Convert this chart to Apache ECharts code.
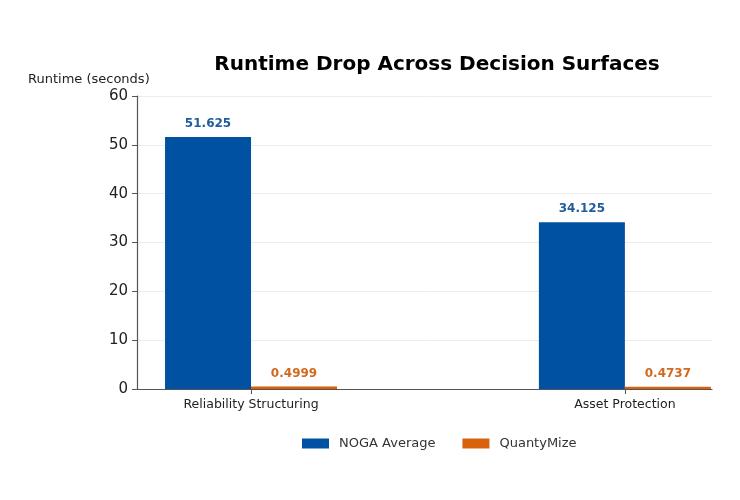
<!DOCTYPE html>
<html>
<head>
<meta charset="utf-8">
<script src="https://cdn.jsdelivr.net/npm/echarts@6/dist/echarts.min.js"></script>
<style>
html,body{margin:0;padding:0;background:#fff;}
#chart{width:740px;height:500px;}
</style>
</head>
<body>
<div id="chart"></div>
<script>
// 数据
var categories = ['Reliability Structuring', 'Asset Protection'];
var categoryPos = [0, 1];
var nogaValues = [51.625, 34.125];
var quantyValues = [0.4999, 0.4737];

var barW = 86;
var fontFam = 'DejaVu Sans';

var toPairs = function (vals) {
	return vals.map(function (v, i) { return [categoryPos[i], v]; });
};

var myChart = echarts.init(document.getElementById('chart'));
var option = {
	backgroundColor: '#ffffff',
	animation: false,
	title: {
		text: 'Runtime Drop Across Decision Surfaces',
		left: 432,
		textAlign: 'center',
		top: 50,
		textStyle: { fontFamily: fontFam, fontSize: 20, fontWeight: 'bold', color: '#000' }
	},
	// y轴名称
	graphic: [{
		type: 'text',
		left: 28,
		top: 73,
		style: { text: 'Runtime (seconds)', font: '13px "DejaVu Sans"', fill: '#222' }
	}],
	legend: {
		data: ['NOGA Average', 'QuantyMize'],
		top: 432,
		left: 297,
		icon: 'rect',
		itemWidth: 27,
		itemHeight: 10,
		itemGap: 27,
		textStyle: { fontFamily: fontFam, fontSize: 13, color: '#333', padding: [0, 0, 0, 5] }
	},
	grid: { left: 137, right: 28, top: 96, bottom: 111 },
	xAxis: {
		type: 'value',
		min: -0.305,
		max: 1.233,
		splitLine: { show: false },
		axisLine: { show: true, onZero: false, lineStyle: { color: '#555', width: 1.2 } },
		axisTick: { show: true, customValues: categoryPos, length: 5, lineStyle: { color: '#555' } },
		axisLabel: {
			customValues: categoryPos,
			fontFamily: fontFam, fontSize: 12.5, color: '#222', margin: 9,
			formatter: function (v) { return categories[Math.round(v)]; }
		}
	},
	yAxis: {
		type: 'value',
		min: 0,
		max: 60,
		interval: 10,
		axisLine: { show: true, onZero: false, lineStyle: { color: '#555', width: 1.2 } },
		axisTick: { show: true, length: 5, lineStyle: { color: '#555' } },
		axisLabel: { fontFamily: fontFam, fontSize: 15, color: '#222', margin: 9 },
		splitLine: { show: true, lineStyle: { color: '#ececec', width: 1 } }
	},
	series: [
		{
			name: 'NOGA Average',
			type: 'bar',
			data: toPairs(nogaValues),
			barWidth: barW,
			barGap: '0%',
			itemStyle: { color: '#0051a2' },
			label: {
				show: true, position: 'top', distance: 7,
				fontFamily: fontFam, fontSize: 12, fontWeight: 'bold', color: '#1f5c9a',
				formatter: function (p) { return p.value[1]; }
			}
		},
		{
			name: 'QuantyMize',
			type: 'bar',
			data: toPairs(quantyValues),
			barWidth: barW,
			barGap: '0%',
			itemStyle: { color: '#d9600c' },
			label: {
				show: true, position: 'top', distance: 7,
				fontFamily: fontFam, fontSize: 12, fontWeight: 'bold', color: '#d2691e',
				formatter: function (p) { return p.value[1]; }
			}
		}
	],
	color: ['#0051a2', '#d9600c']
};
myChart.setOption(option);
</script>
</body>
</html>
